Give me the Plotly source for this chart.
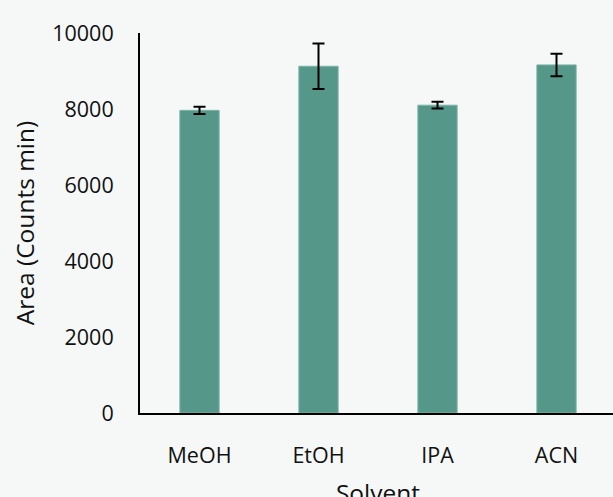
import plotly.graph_objects as go

solvents = ["MeOH", "EtOH", "IPA", "ACN"]
area = [7965, 9125, 8100, 9160]
area_err = [95, 600, 88, 295]
y_ticks = [0, 2000, 4000, 6000, 8000, 10000]
y_tick_text = ["0", "2000", "4000", "6000", "8000", "10000"]

BG = "#F5F8F7"
BAR = "#55988A"
FONT = "Open Sans"

fig = go.Figure(
    go.Bar(
        x=solvents,
        y=area,
        marker=dict(color=BAR, line=dict(color="#7DB2A7", width=1)),
        error_y=dict(type="data", array=area_err, visible=True,
                     color="black", thickness=2, width=6),
        width=0.33,
    )
)

# figure slightly larger than the 613x497 window: the reference crops its
# right edge and the bottom of the "Solvent" title
fig.update_layout(
    width=616, height=512,
    margin=dict(l=140, r=0, t=33, b=99),
    paper_bgcolor=BG, plot_bgcolor=BG,
    font=dict(family=FONT, size=21.5, color="#111111"),
    showlegend=False,
)

fig.update_xaxes(
    range=[-0.5, 3.5], automargin=False,
    showline=True, linecolor="black", linewidth=2,
    showgrid=False, ticks="", ticklabelstandoff=22,
    title=dict(text="Solvent", standoff=17, font=dict(size=24.5)),
)
fig.update_yaxes(
    range=[0, 10000], tickvals=y_ticks, ticktext=y_tick_text, automargin=False,
    showline=True, linecolor="black", linewidth=2,
    showgrid=False, zeroline=False, ticks="", ticklabelstandoff=20,
    title=dict(text="Area (Counts min)", standoff=11, font=dict(size=24.5)),
)

fig.write_html(
    "out.html",
    config={"displayModeBar": False},
    post_script=(
        "document.body.style.margin='0';"
        "document.body.style.overflow='hidden';"
        "document.documentElement.style.overflow='hidden';"
        "document.body.style.background='%s';" % BG
    ),
)
